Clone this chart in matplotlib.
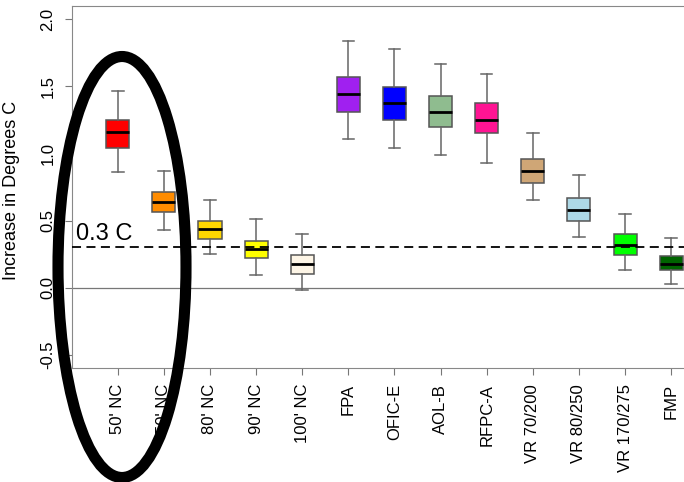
import matplotlib
matplotlib.use("Agg")
import matplotlib.pyplot as plt
from matplotlib.patches import Ellipse

plt.rcParams['font.family'] = ['Liberation Sans', 'DejaVu Sans']

# values (degrees C)
labels = ["50' NC", "50' NC", "80' NC", "90' NC", "100' NC", "FPA", "OFIC-E",
          "AOL-B", "RFPC-A", "VR 70/200", "VR 80/250", "VR 170/275", "FMP"]
whislo = [0.86, 0.43, 0.25, 0.09, -0.015, 1.11, 1.04, 0.99, 0.93, 0.65, 0.38, 0.13, 0.03]
q1     = [1.04, 0.56, 0.36, 0.22, 0.10, 1.31, 1.25, 1.20, 1.15, 0.78, 0.50, 0.24, 0.13]
med    = [1.16, 0.64, 0.435, 0.285, 0.177, 1.445, 1.373, 1.311, 1.251, 0.866, 0.582, 0.321, 0.179]
q3     = [1.25, 0.71, 0.50, 0.35, 0.24, 1.57, 1.495, 1.425, 1.373, 0.96, 0.669, 0.398, 0.237]
whishi = [1.466, 0.866, 0.652, 0.512, 0.40, 1.84, 1.776, 1.669, 1.594, 1.149, 0.836, 0.552, 0.373]
colors = ["#FF0000", "#FF8C00", "#FFD700", "#FFFF00", "#FDF5E6", "#A020F0", "#0000FF",
          "#8FBC8F", "#FF1493", "#CFA676", "#ADD8E6", "#00FF00", "#006400"]
threshold = 0.3

stats = []
for i in range(len(labels)):
    stats.append(dict(label=labels[i], whislo=whislo[i], q1=q1[i], med=med[i],
                      q3=q3[i], whishi=whishi[i], fliers=[]))

fig = plt.figure(figsize=(6.84, 4.82), dpi=100)
ax = fig.add_axes([0.1053, 0.2365, 0.905, 0.7511])

bp = ax.bxp(stats, positions=range(1, len(labels) + 1), widths=0.5, capwidths=0.25,
            patch_artist=True, showfliers=False,
            boxprops=dict(edgecolor="#555555", linewidth=1.1),
            whiskerprops=dict(color="#666666", linewidth=1.1),
            capprops=dict(color="#666666", linewidth=1.1),
            medianprops=dict(color="black", linewidth=2))
for patch, c in zip(bp['boxes'], colors):
    patch.set_facecolor(c)

ax.axhline(0, color="#777777", lw=0.9, zorder=0)
ax.axhline(threshold, color="black", lw=1.3, ls=(0, (5, 3)), zorder=3)
ax.text(0.1, threshold + 0.015, "0.3 C", fontsize=17, va="bottom", ha="left")

ax.set_xlim(0.0087, 13.43)
ax.set_ylim(-0.6, 2.1)
ax.set_yticks([-0.5, 0.0, 0.5, 1.0, 1.5, 2.0])
ax.set_yticklabels(["-0.5", "0.0", "0.5", "1.0", "1.5", "2.0"], rotation=90, va="center")
ax.set_xticks(range(1, len(labels) + 1))
ax.set_xticklabels(labels, rotation=90)
ax.tick_params(axis="both", labelsize=12, length=5, color="#777777")
ax.tick_params(axis="y", pad=7)
ax.tick_params(axis="x", pad=6.5)
ax.set_ylabel("Increase in Degrees C", fontsize=13)
ax.yaxis.set_label_coords(-0.084, 0.49)
for s in ax.spines.values():
    s.set_color("#888888")
ax.spines["right"].set_visible(False)

# hand-drawn ellipse overlay, in pixel units
over = fig.add_axes([0, 0, 1, 1], facecolor="none")
over.set_xlim(0, 684)
over.set_ylim(482, 0)
over.axis("off")
over.add_patch(Ellipse((122, 267), 128, 421, fill=False, edgecolor="black", lw=8))

plt.savefig("out.png", dpi=100)
